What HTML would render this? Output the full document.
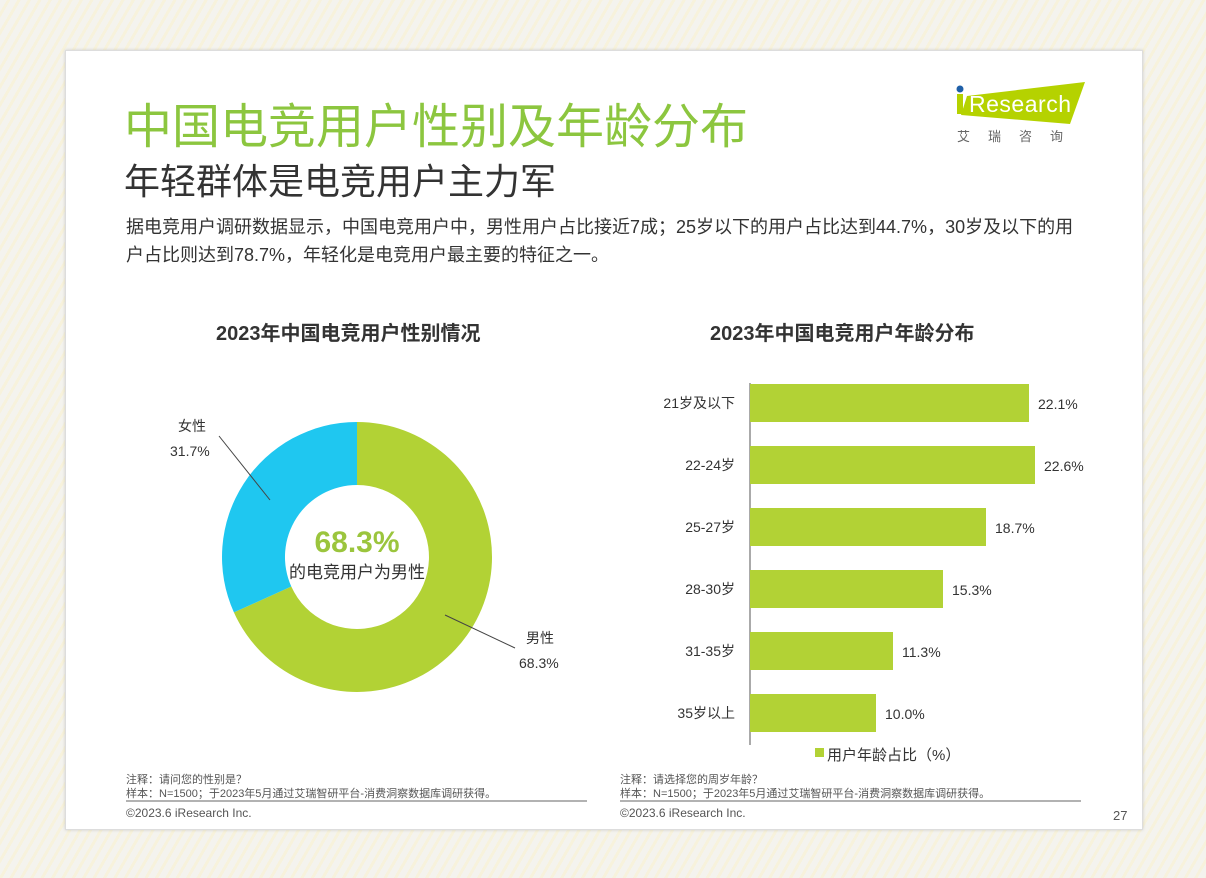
<!DOCTYPE html>
<html><head><meta charset="utf-8"><style>
body{margin:0;width:1206px;height:878px;overflow:hidden;background:repeating-linear-gradient(120deg,#f4f3ee 0 6px,#f7f2dc 6px 9px);font-family:"Liberation Sans","Noto Sans CJK SC",sans-serif;position:relative}
.card{position:absolute;left:65px;top:50px;width:1076px;height:778px;background:#fff;border:1px solid #ddd;box-shadow:0 0 3px rgba(0,0,0,.15)}
.a{position:absolute;white-space:nowrap}
</style></head><body>
<div class="card"></div>
<div class="a" style="left:124px;top:87px;font-size:48px;letter-spacing:0px;color:#8cc63f">中国电竞用户性别及年龄分布</div>
<div class="a" style="left:124px;top:153px;font-size:36px;letter-spacing:0px;color:#333">年轻群体是电竞用户主力军</div>
<div class="a" style="left:126px;top:213px;font-size:18px;letter-spacing:0px;color:#333;line-height:28px">据电竞用户调研数据显示，中国电竞用户中，男性用户占比接近7成；25岁以下的用户占比达到44.7%，30岁及以下的用<br>户占比则达到78.7%，年轻化是电竞用户最主要的特征之一。</div>
<svg class="a" style="left:955px;top:80px" width="135" height="64">
<polygon points="12,16 130,2 115,44 6,35" fill="#b5d200"/>
<rect x="2" y="14" width="6" height="20" fill="#b5d200"/><circle cx="5" cy="9" r="3.5" fill="#1f5fa8"/>
<text x="14" y="32" font-size="23" fill="#fff" font-family="Liberation Sans" textLength="102">Research</text>
<text x="2" y="61" font-size="13" fill="#666" letter-spacing="18" font-family="Noto Sans CJK SC">艾瑞咨询</text>
</svg>
<div class="a" style="left:216px;top:317px;font-size:20px;font-weight:bold;color:#333">2023年中国电竞用户性别情况</div>
<div class="a" style="left:710px;top:317px;font-size:20px;font-weight:bold;color:#333">2023年中国电竞用户年龄分布</div>
<svg class="a" style="left:0;top:0" width="1206" height="878">
<path d="M357,422 A135,135 0 1 1 233.9,612.4 L291.3,586.5 A72,72 0 1 0 357,485 Z" fill="#b2d235"/>
<path d="M233.9,612.4 A135,135 0 0 1 357,422 L357,485 A72,72 0 0 0 291.3,586.5 Z" fill="#1fc7f0"/>
<line x1="219" y1="436" x2="270" y2="500" stroke="#444"/>
<line x1="445" y1="615" x2="515" y2="648" stroke="#444"/>
<text x="357" y="552" text-anchor="middle" font-size="30" font-weight="bold" fill="#9bc53d" font-family="Liberation Sans">68.3%</text>
<text x="357" y="578" text-anchor="middle" font-size="17" fill="#333" font-family="Noto Sans CJK SC">的电竞用户为男性</text>
<g font-size="14" fill="#333" font-family="Liberation Sans,Noto Sans CJK SC">
<text x="178" y="431">女性</text><text x="170" y="456">31.7%</text>
<text x="526" y="643">男性</text><text x="519" y="668">68.3%</text>
</g>
<line x1="750" y1="383" x2="750" y2="745" stroke="#555"/>
<g fill="#b2d235">
<rect x="750" y="384" width="279" height="38"/><rect x="750" y="446" width="285" height="38"/>
<rect x="750" y="508" width="236" height="38"/><rect x="750" y="570" width="193" height="38"/>
<rect x="750" y="632" width="143" height="38"/><rect x="750" y="694" width="126" height="38"/>
<rect x="815" y="748" width="9" height="9"/>
</g>
<g font-size="14" fill="#333" font-family="Liberation Sans,Noto Sans CJK SC">
<g text-anchor="end"><text x="735" y="408">21岁及以下</text><text x="735" y="470">22-24岁</text><text x="735" y="532">25-27岁</text><text x="735" y="594">28-30岁</text><text x="735" y="656">31-35岁</text><text x="735" y="718">35岁以上</text></g>
<text x="1038" y="409">22.1%</text><text x="1044" y="471">22.6%</text><text x="995" y="533">18.7%</text><text x="952" y="595">15.3%</text><text x="902" y="657">11.3%</text><text x="885" y="719">10.0%</text>
<text x="827" y="760" font-size="15">用户年龄占比（%）</text>
</g>
<g font-size="11" fill="#555" font-family="Liberation Sans,Noto Sans CJK SC">
<text x="126" y="783">注释：请问您的性别是？</text><text x="126" y="797">样本：N=1500；于2023年5月通过艾瑞智研平台-消费洞察数据库调研获得。</text>
<text x="126" y="817" font-size="12">©2023.6 iResearch Inc.</text>
<text x="620" y="783">注释：请选择您的周岁年龄？</text><text x="620" y="797">样本：N=1500；于2023年5月通过艾瑞智研平台-消费洞察数据库调研获得。</text>
<text x="620" y="817" font-size="12">©2023.6 iResearch Inc.</text>
<text x="1113" y="820" font-size="13">27</text>
</g>
<line x1="126" y1="801" x2="587" y2="801" stroke="#666"/>
<line x1="620" y1="801" x2="1081" y2="801" stroke="#666"/>
</svg>
</body></html>
